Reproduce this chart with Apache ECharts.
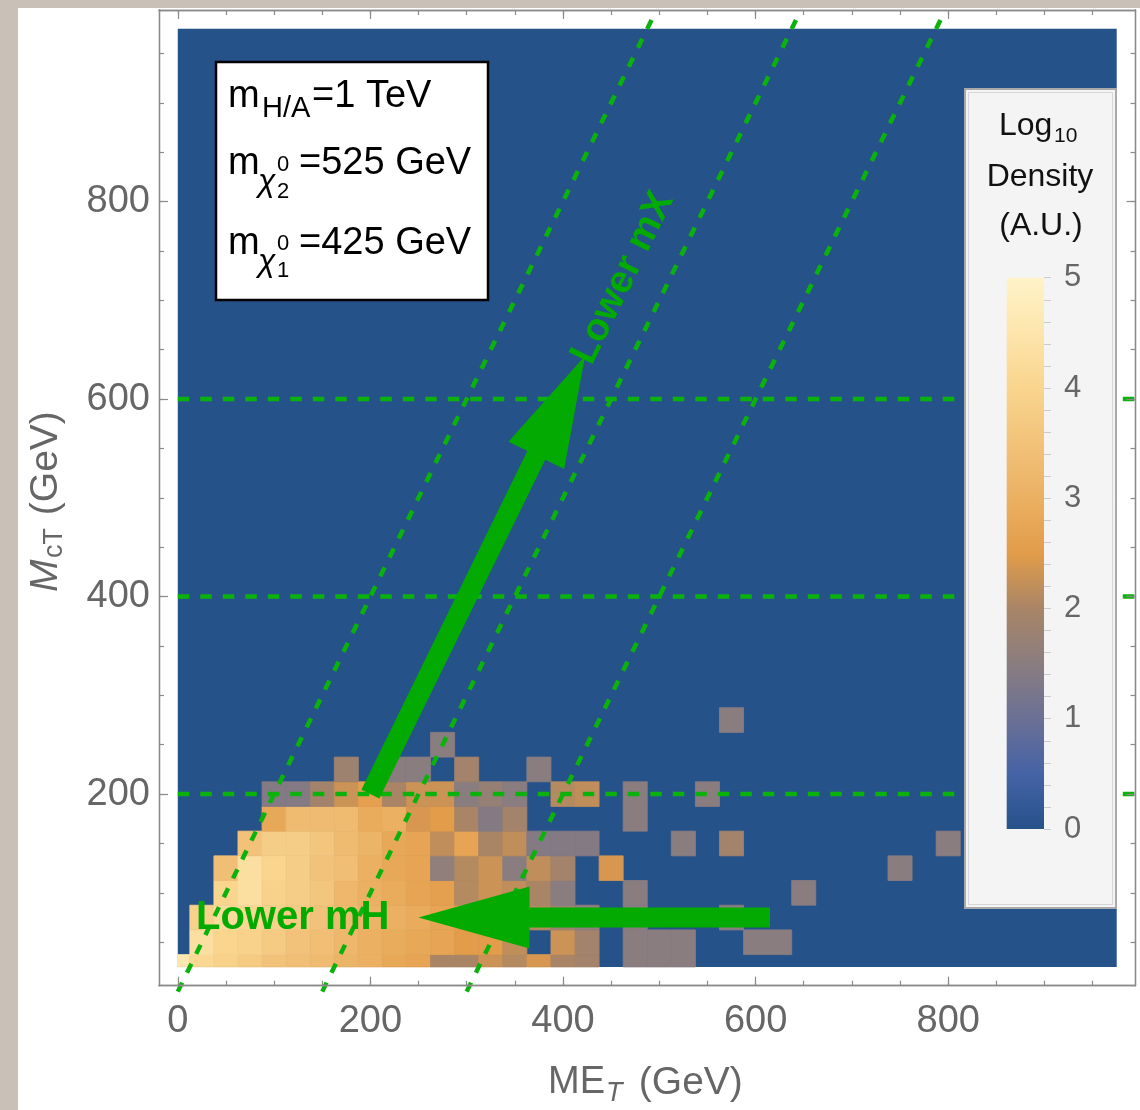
<!DOCTYPE html>
<html>
<head>
<meta charset="utf-8">
<script src="https://cdn.jsdelivr.net/npm/echarts@6/dist/echarts.min.js"></script>
<style>
  html, body { margin: 0; padding: 0; background: #ffffff; }
  #chart { width: 1140px; height: 1110px; }
</style>
</head>
<body>
<div id="chart"></div>
<script>
// ---- Histogram binning (GeV) ----
const binWidth = 25;
const histRangeX = [0, 975];
const histRangeY = [25, 975];
const metBinCentres = [0, 25, 50, 75, 100, 125, 150, 175, 200, 225, 250, 275, 300, 325, 350, 375, 400,
  425, 450, 475, 500, 525, 550, 575, 600, 625, 650, 675, 700, 725, 750, 775, 800];
const mctBinCentres = [25, 50, 75, 100, 125, 150, 175, 200, 225, 250, 275];

// ---- log10 density, one array per M_cT bin, indexed by ME_T bin (0 = empty) ----
const logDensity_mct25  = [4.6, 4.1, 3.9, 3.7, 3.5, 3.4, 3.3, 3.1, 3.0, 2.8, 2.7, 2.0, 2.0, 2.3, 2.1, 2.4, 2.0, 1.9, 0, 1.5, 1.5, 1.5, 0, 0, 0, 0, 0, 0, 0, 0, 0, 0, 0];
const logDensity_mct50  = [0, 4.3, 4.0, 3.9, 3.7, 3.5, 3.4, 3.2, 3.0, 2.9, 2.8, 2.7, 2.5, 2.5, 2.2, 0, 2.3, 1.9, 0, 1.5, 1.5, 1.5, 0, 0, 1.5, 1.5, 0, 0, 0, 0, 0, 0, 0];
const logDensity_mct75  = [0, 3.9, 4.2, 4.1, 3.9, 3.7, 3.5, 3.3, 3.1, 3.0, 2.9, 2.7, 2.6, 2.4, 2.2, 2.1, 1.8, 1.6, 0, 1.5, 0, 0, 0, 1.5, 0, 0, 0, 0, 0, 0, 0, 0, 0];
const logDensity_mct100 = [0, 0, 4.0, 4.3, 3.9, 3.8, 3.6, 3.2, 3.0, 2.9, 2.7, 2.6, 2.1, 2.3, 2.2, 2.0, 1.5, 0, 0, 1.5, 0, 0, 0, 0, 0, 0, 1.5, 0, 0, 0, 0, 0, 0];
const logDensity_mct125 = [0, 0, 3.4, 4.3, 4.0, 3.8, 3.5, 3.4, 3.0, 2.8, 2.7, 1.6, 2.1, 2.3, 1.5, 2.2, 1.9, 0, 2.4, 0, 0, 0, 0, 0, 0, 0, 0, 0, 0, 0, 1.5, 0, 0];
const logDensity_mct150 = [0, 0, 0, 3.5, 3.8, 3.8, 3.6, 3.3, 3.1, 2.8, 2.7, 2.2, 2.7, 2.0, 2.2, 1.4, 1.4, 1.4, 0, 0, 0, 1.5, 0, 1.9, 0, 0, 0, 0, 0, 0, 0, 0, 1.5];
const logDensity_mct175 = [0, 0, 0, 0, 2.8, 3.3, 3.3, 3.3, 2.9, 3.0, 2.4, 2.5, 2.0, 1.4, 1.9, 0, 0, 0, 0, 1.5, 0, 0, 0, 0, 0, 0, 0, 0, 0, 0, 0, 0, 0];
const logDensity_mct200 = [0, 0, 0, 0, 1.4, 1.4, 1.9, 2.3, 2.6, 2.0, 2.3, 2.3, 1.5, 1.7, 1.5, 0, 2.1, 2.2, 0, 1.5, 0, 0, 1.5, 0, 0, 0, 0, 0, 0, 0, 0, 0, 0];
const logDensity_mct225 = [0, 0, 0, 0, 0, 0, 0, 1.8, 0, 1.5, 1.5, 0, 1.9, 0, 0, 1.5, 0, 0, 0, 0, 0, 0, 0, 0, 0, 0, 0, 0, 0, 0, 0, 0, 0];
const logDensity_mct250 = [0, 0, 0, 0, 0, 0, 0, 0, 0, 0, 0, 1.5, 0, 0, 0, 0, 0, 0, 0, 0, 0, 0, 0, 0, 0, 0, 0, 0, 0, 0, 0, 0, 0];
const logDensity_mct275 = [0, 0, 0, 0, 0, 0, 0, 0, 0, 0, 0, 0, 0, 0, 0, 0, 0, 0, 0, 0, 0, 0, 0, 1.5, 0, 0, 0, 0, 0, 0, 0, 0, 0];

// ---- Tick values ----
const xTickLabels = [0, 200, 400, 600, 800];
const xMinorTicks = [0, 50, 100, 150, 200, 250, 300, 350, 400, 450, 500, 550, 600, 650, 700, 750, 800, 850, 900, 950];
const yTickLabels = [200, 400, 600, 800];
const yMinorTicks = [50, 100, 150, 200, 250, 300, 350, 400, 450, 500, 550, 600, 650, 700, 750, 800, 850, 900, 950];

// ---- Guide lines and arrows (GeV coordinates) ----
const mctLevels = [200, 400, 600];
const diagonalGuides = [
  [[0, 0], [497, 994]],
  [[150, 0], [647, 994]],
  [[300, 0], [797, 994]]
];
const arrowLowerMX = [200, 200, 423, 644];
const arrowLowerMH = [615, 75, 250, 75];

// ---- Colour scale for log10 density ----
const colorStops = [
  [0.0, '#26528a'], [0.5, '#4563a6'], [1.0, '#6b7095'], [1.5, '#8a7d80'],
  [2.0, '#a98566'], [2.5, '#e29c4a'], [3.0, '#ebb062'], [3.5, '#f2c27a'],
  [4.0, '#f9d58e'], [4.5, '#fde5ac'], [5.0, '#fff3c8']
];
function hexToRgb(h) { return [1, 3, 5].map(i => parseInt(h.substr(i, 2), 16)); }
function colormap(v) {
  if (v <= colorStops[0][0]) return colorStops[0][1];
  for (let k = 1; k < colorStops.length; k++) {
    if (v <= colorStops[k][0]) {
      const [v0, c0] = colorStops[k - 1], [v1, c1] = colorStops[k];
      const t = (v - v0) / (v1 - v0);
      const a = hexToRgb(c0), b = hexToRgb(c1);
      const m = a.map((x, i) => Math.round(x + (b[i] - x) * t));
      return `rgb(${m[0]},${m[1]},${m[2]})`;
    }
  }
  return colorStops[colorStops.length - 1][1];
}

const densityRows = [logDensity_mct25, logDensity_mct50, logDensity_mct75, logDensity_mct100,
  logDensity_mct125, logDensity_mct150, logDensity_mct175, logDensity_mct200,
  logDensity_mct225, logDensity_mct250, logDensity_mct275];
const cells = [];
mctBinCentres.forEach((y, j) => {
  densityRows[j].forEach((v, i) => { if (v > 0) cells.push([metBinCentres[i], y, v]); });
});

const FONT = '"Liberation Sans", Arial, Helvetica, sans-serif';
const GREEN = '#02aa02';
const DASH_GREEN = '#0cb20c';
const AXIS_GRAY = '#8a8a8a';
const LABEL_GRAY = '#666666';

function renderBinRect(x0, y0, x1, y1, api) {
  const a = api.coord([x0, y1]);
  const b = api.coord([x1, y0]);
  return { x: a[0], y: a[1], width: b[0] - a[0], height: b[1] - a[1] };
}

function renderCell(params, api) {
  const xc = api.value(0), yc = api.value(1), v = api.value(2);
  const x0 = Math.max(xc - binWidth / 2, histRangeX[0]);
  const x1 = Math.min(xc + binWidth / 2, histRangeX[1]);
  const y0 = Math.max(yc - binWidth / 2, histRangeY[0]);
  const y1 = Math.min(yc + binWidth / 2, histRangeY[1]);
  const c = colormap(v);
  return { type: 'rect', shape: renderBinRect(x0, y0, x1, y1, api), style: { fill: c, stroke: c, lineWidth: 0.8 } };
}

function renderRange(params, api) {
  const c = colormap(0);
  return { type: 'rect', shape: renderBinRect(api.value(0), api.value(1), api.value(2), api.value(3), api), style: { fill: c } };
}

const SHAFT_HALF = 10, HEAD_HALF = 31, HEAD_LEN = 111;
function renderArrow(params, api) {
  const p0 = api.coord([api.value(0), api.value(1)]);
  const p1 = api.coord([api.value(2), api.value(3)]);
  const dx = p1[0] - p0[0], dy = p1[1] - p0[1];
  const L = Math.hypot(dx, dy);
  const ux = dx / L, uy = dy / L, nx = -uy, ny = ux;
  const bx = p1[0] - ux * HEAD_LEN, by = p1[1] - uy * HEAD_LEN;
  const pts = [
    [p0[0] + nx * SHAFT_HALF, p0[1] + ny * SHAFT_HALF],
    [bx + nx * SHAFT_HALF, by + ny * SHAFT_HALF],
    [bx + nx * HEAD_HALF, by + ny * HEAD_HALF],
    [p1[0], p1[1]],
    [bx - nx * HEAD_HALF, by - ny * HEAD_HALF],
    [bx - nx * SHAFT_HALF, by - ny * SHAFT_HALF],
    [p0[0] - nx * SHAFT_HALF, p0[1] - ny * SHAFT_HALF]
  ];
  return { type: 'polygon', shape: { points: pts }, style: { fill: GREEN } };
}

function renderColorBar(params, api) {
  const stops = colorStops.map(([v, c]) => ({ offset: v / 5, color: c }));
  return {
    type: 'rect',
    shape: renderBinRect(api.value(0), api.value(1), api.value(2), api.value(3), api),
    style: { fill: new echarts.graphic.LinearGradient(0, 1, 0, 0, stops) }
  };
}

// ---- Axes: frame with major / minor ticks on all four sides ----
const frameLine = { show: true, onZero: false, lineStyle: { color: AXIS_GRAY, width: 1.3 } };
function xFrameAxis(position, ticks, len, labels) {
  return {
    type: 'value', gridIndex: 0, min: -19.5, max: 994.5, position: position, z: 10,
    axisLine: frameLine, splitLine: { show: false },
    axisTick: { show: true, inside: true, length: len, customValues: ticks, lineStyle: { color: AXIS_GRAY, width: 1.2 } },
    axisLabel: labels ? { show: true, customValues: labels, fontSize: 38, fontFamily: FONT, color: LABEL_GRAY, margin: 17 } : { show: false }
  };
}
function yFrameAxis(position, ticks, len, labels) {
  return {
    type: 'value', gridIndex: 0, min: 6, max: 994, position: position, z: 10,
    axisLine: frameLine, splitLine: { show: false },
    axisTick: { show: true, inside: true, length: len, customValues: ticks, lineStyle: { color: AXIS_GRAY, width: 1.2 } },
    axisLabel: labels ? { show: true, customValues: labels, fontSize: 38, fontFamily: FONT, color: LABEL_GRAY, margin: 9 } : { show: false }
  };
}

function label(x, y, text, size, opt) {
  opt = opt || {};
  return {
    type: 'text', x: x, y: y, z: opt.z || 52, rotation: opt.rotation || 0,
    style: {
      text: text, fontSize: size, fontFamily: FONT, fontStyle: opt.italic ? 'italic' : 'normal',
      fontWeight: opt.bold ? 'bold' : 'normal', fill: opt.color || '#000',
      align: opt.align || 'left', verticalAlign: 'middle'
    }
  };
}

const graphics = [
  // page margin bands
  { type: 'rect', z: 1, shape: { x: 0, y: 0, width: 18, height: 1110 }, style: { fill: '#c9c1b8' } },
  { type: 'rect', z: 1, shape: { x: 0, y: 0, width: 1140, height: 8 }, style: { fill: '#c9c1b8' } },

  // parameter box
  { type: 'rect', z: 50, shape: { x: 216, y: 62, width: 272, height: 238 }, style: { fill: '#ffffff', stroke: '#000000', lineWidth: 2.5 } },
  label(228, 96.7, 'm', 38),
  label(262, 109, 'H/A', 29),
  label(312, 96.7, '=1 TeV', 38),
  label(228, 163.7, 'm', 38),
  label(258, 182, 'χ', 32, { italic: true }),
  label(277, 165, '0', 22),
  label(277, 191.5, '2', 22),
  label(299, 163.7, '=525 GeV', 38),
  label(228, 243.7, 'm', 38),
  label(258, 262, 'χ', 32, { italic: true }),
  label(277, 244, '0', 22),
  label(277, 270.5, '1', 22),
  label(299, 243.7, '=425 GeV', 38),

  // colour scale box
  { type: 'rect', z: 40, shape: { x: 965, y: 89, width: 151, height: 819 }, style: { fill: '#f4f4f4', stroke: '#a9a9a9', lineWidth: 2 } },
  { type: 'rect', z: 41, shape: { x: 968.5, y: 92.5, width: 144, height: 812 }, style: { fill: 'none', stroke: '#d6d6d6', lineWidth: 1 } },
  label(999, 126, 'Log', 32, { color: '#111' }),
  label(1054, 136, '10', 21, { color: '#111' }),
  label(1040, 177, 'Density', 32, { color: '#111', align: 'center' }),
  label(1041, 226, '(A.U.)', 32, { color: '#111', align: 'center' }),

  // axis titles
  label(548, 1083, 'ME', 38, { color: LABEL_GRAY }),
  label(606, 1093, 'T', 27, { color: LABEL_GRAY, italic: true }),
  label(628, 1083, ' (GeV)', 39, { color: LABEL_GRAY }),
  {
    type: 'group', x: 46, y: 592, rotation: Math.PI / 2,
    children: [
      label(0, 0, 'M', 39, { color: LABEL_GRAY, italic: true }),
      label(34, 9, 'cT', 27, { color: LABEL_GRAY }),
      label(66, 0, ' (GeV)', 39, { color: LABEL_GRAY })
    ]
  },

  // arrow captions
  label(196, 918, 'Lower mH', 40, { color: GREEN, bold: true, z: 55 }),
  label(623, 278, 'Lower mX', 39, { color: GREEN, bold: true, align: 'center', rotation: 1.114, z: 55 })
];

const series = [
  { type: 'custom', name: 'range', xAxisIndex: 0, yAxisIndex: 0, z: 2, silent: true,
    data: [[histRangeX[0], histRangeY[0], histRangeX[1], histRangeY[1]]], renderItem: renderRange },
  { type: 'custom', name: 'log10 density', xAxisIndex: 0, yAxisIndex: 0, z: 3, silent: true,
    data: cells, renderItem: renderCell }
];
mctLevels.forEach(level => {
  series.push({
    type: 'line', xAxisIndex: 0, yAxisIndex: 0, z: 4, silent: true, symbol: 'none', animation: false,
    data: [[0, level], [994.5, level]],
    lineStyle: { color: DASH_GREEN, width: 4.5, type: [11.5, 11] }
  });
});
diagonalGuides.forEach(seg => {
  series.push({
    type: 'line', xAxisIndex: 0, yAxisIndex: 0, z: 4, silent: true, symbol: 'none', animation: false, clip: false,
    data: seg,
    lineStyle: { color: DASH_GREEN, width: 4.5, type: [10, 11] }
  });
});
series.push({ type: 'custom', name: 'arrows', xAxisIndex: 0, yAxisIndex: 0, z: 6, silent: true,
  data: [arrowLowerMX, arrowLowerMH], renderItem: renderArrow });
series.push({ type: 'custom', name: 'colour bar', xAxisIndex: 4, yAxisIndex: 4, z: 60, silent: true,
  data: [[0, 0, 1, 5]], renderItem: renderColorBar });

const option = {
  animation: false,
  backgroundColor: '#ffffff',
  grid: [
    { left: 159, right: 4.5, top: 10, bottom: 124.3 },
    { left: 1006.7, top: 277.7, width: 37.3, height: 551.3 }
  ],
  xAxis: [
    xFrameAxis('bottom', xMinorTicks, 5, null),
    xFrameAxis('bottom', xTickLabels, 9, xTickLabels),
    xFrameAxis('top', xMinorTicks, 5, null),
    xFrameAxis('top', xTickLabels, 9, null),
    { type: 'value', gridIndex: 1, min: 0, max: 1, show: false }
  ],
  yAxis: [
    yFrameAxis('left', yMinorTicks, 5, null),
    yFrameAxis('left', yTickLabels, 9, yTickLabels),
    yFrameAxis('right', yMinorTicks, 5, null),
    yFrameAxis('right', yTickLabels, 9, null),
    {
      type: 'value', gridIndex: 1, min: 0, max: 5, interval: 1, position: 'right', z: 70,
      axisLine: { show: false, onZero: false }, splitLine: { show: false },
      axisTick: { show: true, length: 7, lineStyle: { color: '#cccccc' } },
      minorTick: { show: true, splitNumber: 5, length: 7, lineStyle: { color: '#cccccc' } },
      axisLabel: { fontSize: 31, fontFamily: FONT, color: LABEL_GRAY, margin: 20 }
    }
  ],
  graphic: graphics,
  series: series
};

const chart = echarts.init(document.getElementById('chart'));
chart.setOption(option);
</script>
</body>
</html>
